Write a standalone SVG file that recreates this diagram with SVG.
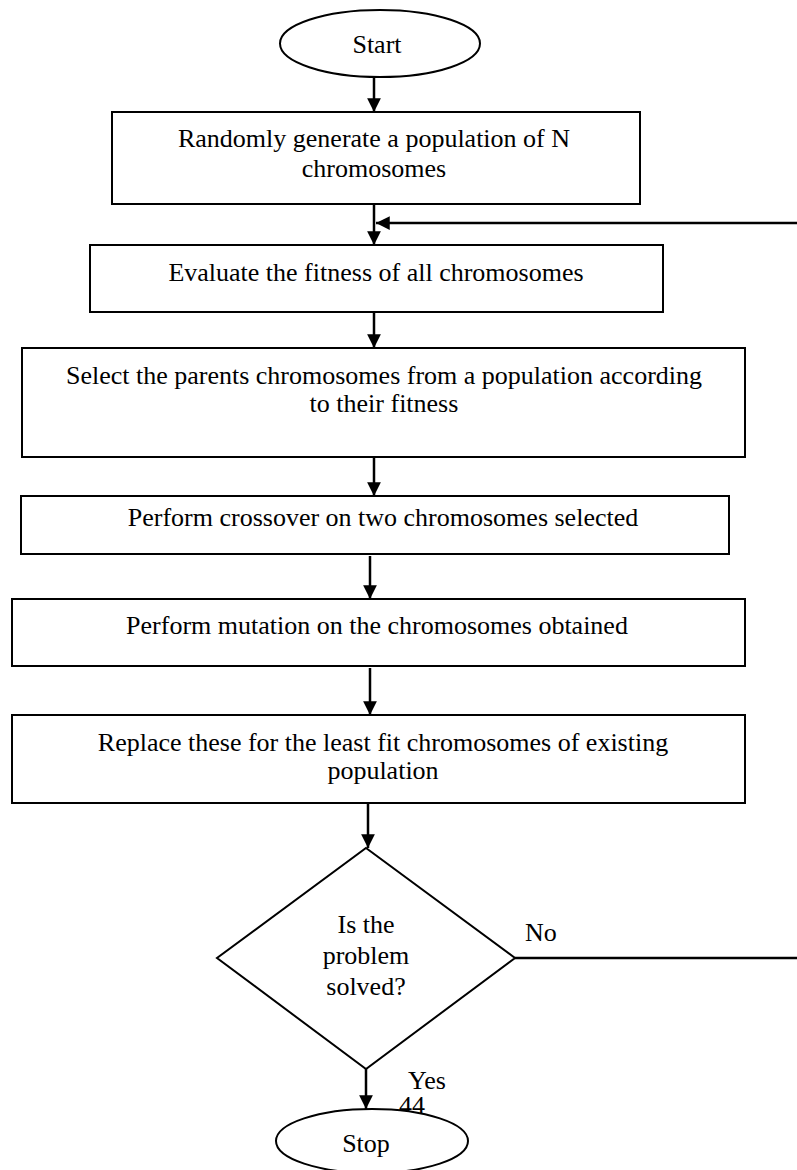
<svg xmlns="http://www.w3.org/2000/svg" width="797" height="1170" viewBox="0 0 797 1170">
<style>
.s{fill:#fff;stroke:#000;stroke-width:2}
.t{font-family:"Liberation Serif","Times New Roman",serif;font-size:26px;fill:#000;text-anchor:middle}
.l{font-family:"Liberation Serif","Times New Roman",serif;font-size:26px;fill:#000}
.c{stroke:#000;stroke-width:2.5;fill:none}
</style>
<defs>
<marker id="ah" viewBox="0 0 10 10" refX="10" refY="5" markerWidth="5.5" markerHeight="5.5" markerUnits="strokeWidth" orient="auto">
<path d="M0,0 L10,5 L0,10 z" fill="#000"/>
</marker>
</defs>
<rect width="797" height="1170" fill="#fff"/>
<g id="connectors">
<line class="c" x1="374" y1="77" x2="374" y2="112" marker-end="url(#ah)"/>
<line class="c" x1="374" y1="204" x2="374" y2="245" marker-end="url(#ah)"/>
<line class="c" x1="797" y1="223" x2="376" y2="223" marker-end="url(#ah)"/>
<line class="c" x1="374" y1="312" x2="374" y2="348" marker-end="url(#ah)"/>
<line class="c" x1="374" y1="457" x2="374" y2="496" marker-end="url(#ah)"/>
<line class="c" x1="370" y1="556" x2="370" y2="599" marker-end="url(#ah)"/>
<line class="c" x1="370" y1="668" x2="370" y2="715" marker-end="url(#ah)"/>
<line class="c" x1="368" y1="803" x2="368" y2="848" marker-end="url(#ah)"/>
<line class="c" x1="515" y1="958" x2="797" y2="958"/>
<line class="c" x1="366" y1="1069" x2="366" y2="1109" marker-end="url(#ah)"/>
</g>
<g id="start">
<ellipse class="s" cx="380" cy="43.5" rx="100" ry="33.5"/>
<text class="t" x="377" y="53">Start</text>
</g>
<g id="generate">
<rect class="s" x="112" y="112" width="528" height="92"/>
<text class="t" x="374" y="147">Randomly generate a population of N</text>
<text class="t" x="374" y="177">chromosomes</text>
</g>
<g id="evaluate">
<rect class="s" x="90" y="245" width="573" height="67"/>
<text class="t" x="376" y="281">Evaluate the fitness of all chromosomes</text>
</g>
<g id="select">
<rect class="s" x="22" y="348" width="723" height="109"/>
<text class="t" x="384" y="384">Select the parents chromosomes from a population according</text>
<text class="t" x="384" y="412">to their fitness</text>
</g>
<g id="crossover">
<rect class="s" x="21" y="496" width="708" height="58"/>
<text class="t" x="383" y="526">Perform crossover on two chromosomes selected</text>
</g>
<g id="mutation">
<rect class="s" x="12" y="599" width="733" height="67"/>
<text class="t" x="377" y="634">Perform mutation on the chromosomes obtained</text>
</g>
<g id="replace">
<rect class="s" x="12" y="715" width="733" height="88"/>
<text class="t" x="383" y="751">Replace these for the least fit chromosomes of existing</text>
<text class="t" x="383" y="779">population</text>
</g>
<g id="decision">
<polygon class="s" points="366,848 515,958 366,1069 217,958"/>
<text class="t" x="366" y="933">Is the</text>
<text class="t" x="366" y="964">problem</text>
<text class="t" x="366" y="995">solved?</text>
</g>
<g id="labels">
<text class="l" x="525" y="941">No</text>
<text class="l" x="408" y="1089">Yes</text>
<text class="l" x="399" y="1114" fill="#333">44</text>
</g>
<g id="stop">
<ellipse class="s" cx="372" cy="1141" rx="96" ry="32"/>
<text class="t" x="366" y="1152">Stop</text>
</g>
</svg>
